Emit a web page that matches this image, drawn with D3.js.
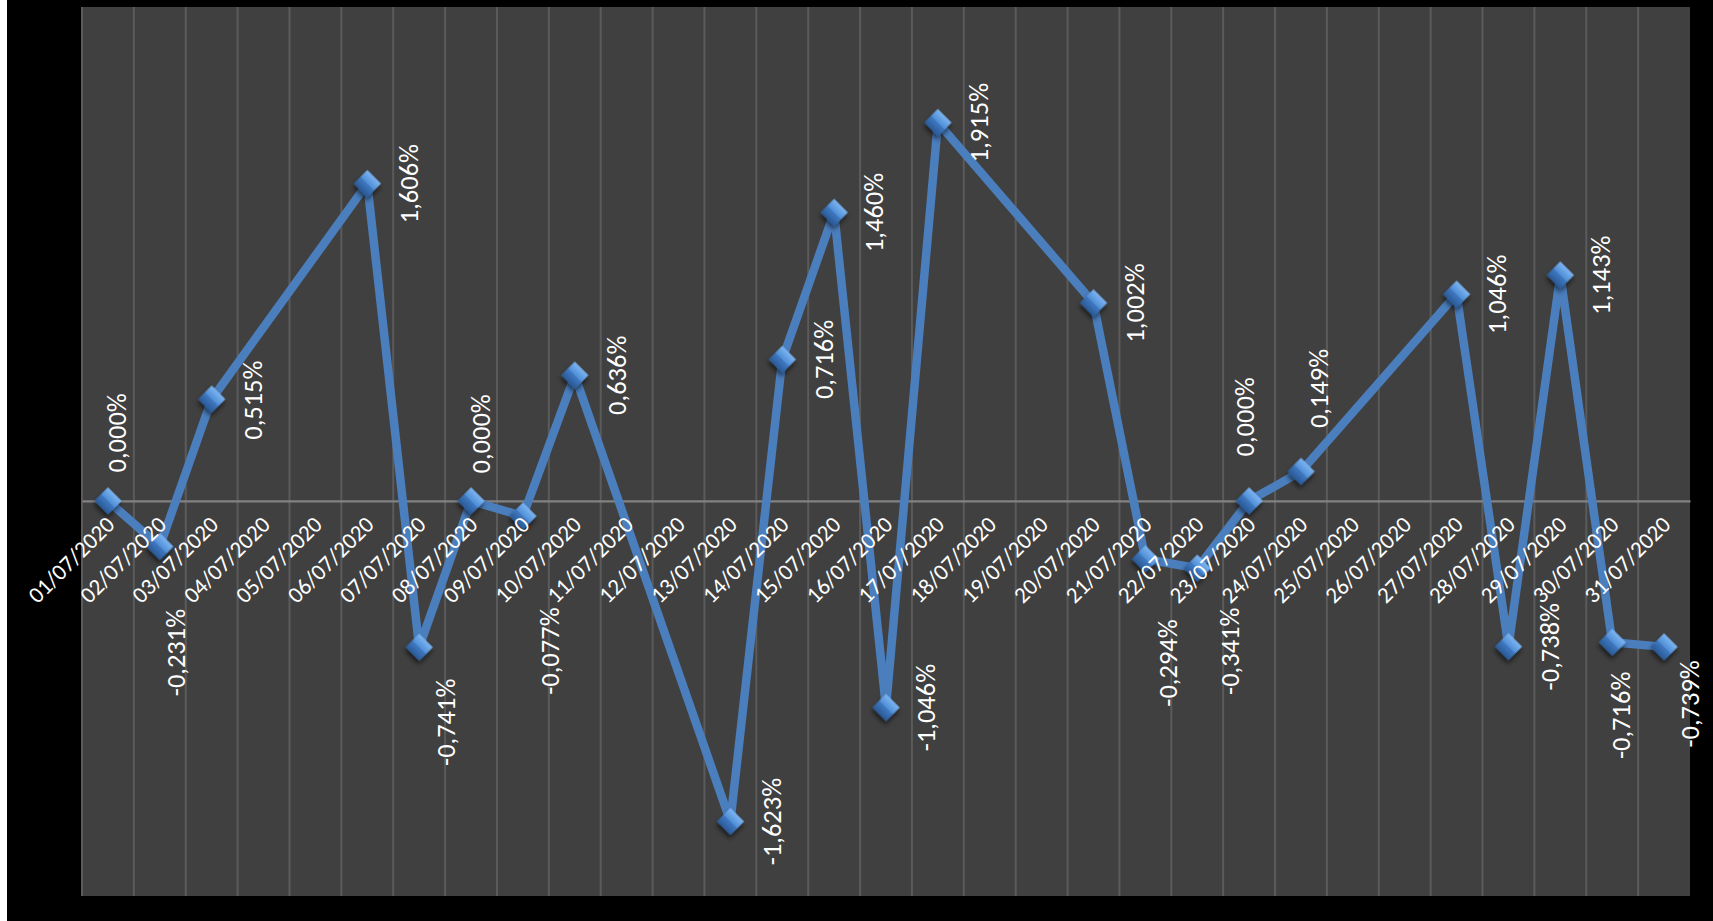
<!DOCTYPE html>
<html>
<head>
<meta charset="utf-8">
<script src="https://cdn.jsdelivr.net/npm/d3@7"></script>
<style>
  html, body { margin: 0; padding: 0; background: #ffffff; }
  svg { display: block; }
  text { font-family: Carlito, Calibri, Lato, "Open Sans", sans-serif; fill: #ffffff; }
</style>
</head>
<body>
<svg id="chart" width="1713" height="921"></svg>
<script>
// ---- data ----
const categories = [
  "01/07/2020","02/07/2020","03/07/2020","04/07/2020","05/07/2020","06/07/2020",
  "07/07/2020","08/07/2020","09/07/2020","10/07/2020","11/07/2020","12/07/2020",
  "13/07/2020","14/07/2020","15/07/2020","16/07/2020","17/07/2020","18/07/2020",
  "19/07/2020","20/07/2020","21/07/2020","22/07/2020","23/07/2020","24/07/2020",
  "25/07/2020","26/07/2020","27/07/2020","28/07/2020","29/07/2020","30/07/2020",
  "31/07/2020"
];
// daily change, percent (null = no quote that day)
const values = [
  0.000, -0.231, 0.515, null, null, 1.606,
  -0.741, 0.000, -0.077, 0.636, null, null,
  -1.623, 0.716, 1.460, -1.046, 1.915, null,
  null, 1.002, -0.294, -0.341, 0.000, 0.149,
  null, null, 1.046, -0.738, 1.143, -0.716,
  -0.739
];
const yDomain = [-2, 2.5];

// ---- layout (label offsets from each point, px) ----
const labelDx = [9,16,41,0,0,41, 27,10,27,42,0,0, 41,41,40,40,41,0, 0,41,22,32,-4,18, 0,0,40,41,40,9, 26];
const labelDy = [-68,106,1,0,0,0, 75,-67,135,0,0,0, 0,0,0,0,0,0, 0,0,104,83,-84,-83, 0,0,0,0,0,73, 57];

const W = 1713, H = 921;
const plot = { left: 82, right: 1690, top: 7, bottom: 896 };

const svg = d3.select("#chart");
const defs = svg.append("defs");
const grad = defs.append("linearGradient").attr("id", "mk").attr("x1", 0).attr("y1", 0).attr("x2", 0).attr("y2", 1);
grad.append("stop").attr("offset", "0%").attr("stop-color", "#7db5f2");
grad.append("stop").attr("offset", "48%").attr("stop-color", "#4f8ed6");
grad.append("stop").attr("offset", "52%").attr("stop-color", "#3f78c0");
grad.append("stop").attr("offset", "100%").attr("stop-color", "#2a5a96");
const sh = defs.append("filter").attr("id", "sh").attr("x", "-50%").attr("y", "-50%").attr("width", "200%").attr("height", "200%");
sh.append("feDropShadow").attr("dx", 2).attr("dy", 3).attr("stdDeviation", 2.5).attr("flood-color", "#000").attr("flood-opacity", 0.6);

// background
svg.append("rect").attr("x", 7).attr("y", 0).attr("width", W - 7).attr("height", H).attr("fill", "#000000");
svg.append("rect").attr("x", plot.left).attr("y", plot.top)
  .attr("width", plot.right - plot.left).attr("height", plot.bottom - plot.top).attr("fill", "#404040");

const x = d3.scaleBand().domain(categories).range([plot.left, plot.right]).paddingInner(0).paddingOuter(0);
const y = d3.scaleLinear().domain(yDomain).range([plot.bottom, plot.top]);
const cx = c => x(c) + x.bandwidth() / 2;

// vertical gridlines at category boundaries
svg.append("g").selectAll("line").data(categories).join("line")
  .attr("x1", d => x(d)).attr("x2", d => x(d))
  .attr("y1", plot.top).attr("y2", plot.bottom)
  .attr("stroke", "#5b5b5b").attr("stroke-width", 2);

// zero (category) axis line
const axis = d3.axisBottom(x).tickSize(0).tickFormat("");
const gAxis = svg.append("g").attr("transform", `translate(0,${y(0)})`).call(axis);
gAxis.select(".domain").attr("stroke", "#828282").attr("stroke-width", 2.2);

// series
const pts = categories.map((c, i) => ({ c, i, v: values[i] })).filter(d => d.v !== null);
const line = d3.line().x(d => cx(d.c)).y(d => y(d.v));
svg.append("path").datum(pts).attr("d", line)
  .attr("fill", "none").attr("stroke", "#4a7ebd").attr("stroke-width", 8.5)
  .attr("stroke-linejoin", "miter").attr("stroke-miterlimit", 3);

const sym = d3.symbol().type(d3.symbolSquare).size(370);
svg.append("g").selectAll("path").data(pts).join("path")
  .attr("d", sym)
  .attr("transform", d => `translate(${cx(d.c)},${y(d.v)}) rotate(45)`)
  .attr("fill", "url(#mk)").attr("filter", "url(#sh)");

// category labels
svg.append("g").selectAll("text").data(categories).join("text")
  .attr("transform", d => `translate(${cx(d) + 8},${y(0) + 25}) rotate(-45)`)
  .attr("text-anchor", "end")
  .attr("font-size", 23)
  .text(d => d);

// data labels
const fmt = v => v.toFixed(3).replace(".", ",") + "%";
svg.append("g").selectAll("text").data(pts).join("text")
  .attr("transform", d => `translate(${cx(d.c) + labelDx[d.i]},${y(d.v) + labelDy[d.i]}) rotate(-90)`)
  .attr("text-anchor", "middle")
  .attr("dy", "0.35em")
  .attr("font-size", 26.5)
  .text(d => fmt(d.v));
</script>
</body>
</html>
